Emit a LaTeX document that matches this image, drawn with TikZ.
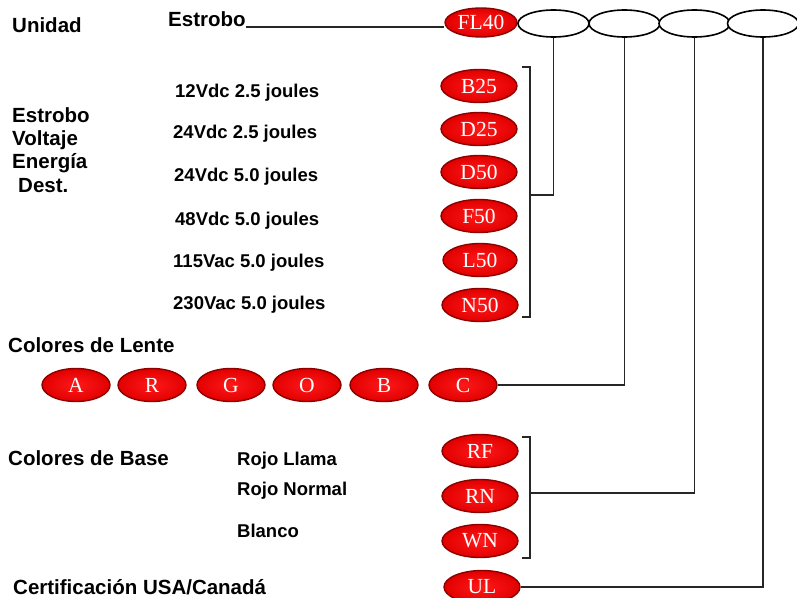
\documentclass[tikz,border=0pt]{standalone}
\usepackage{fontspec}
\setmainfont{Liberation Sans}
\newfontfamily\pillfont{Liberation Serif}
\usetikzlibrary{shapes.geometric}
\begin{document}
\begin{tikzpicture}[x=1pt,y=-1pt,
  head/.style={anchor=base west, inner sep=0, font=\bfseries\fontsize{20.5}{23}\selectfont},
  val/.style={anchor=base west, inner sep=0, font=\bfseries\fontsize{18.5}{21}\selectfont},
  pill/.style={ellipse, inner sep=0, minimum width=76, minimum height=33,
    draw={rgb,255:red,140;green,0;blue,0}, line width=1.4pt,
    inner color={rgb,255:red,255;green,25;blue,25}, outer color={rgb,255:red,225;green,0;blue,0},
    text=white, font=\pillfont\fontsize{21.5}{21.5}\selectfont},
  lens/.style={pill, minimum width=68},
  slot/.style={ellipse, inner sep=0, minimum width=71, minimum height=27, draw=black, line width=1.6pt, fill=white},
  conn/.style={draw=black!85, line width=1.3pt}
]
\useasboundingbox (0,0) rectangle (797,597);

% left headings
\node[head] (unidad) at (12,32) {Unidad};
\node[head] (estrobo) at (168,27) {Estrobo};
\node[head] (h1) at (12,122) {Estrobo};
\node[head] (h2) at (12,145) {Voltaje};
\node[head] (h3) at (12,168) {Energía};
\node[head] (h4) at (18,192) {Dest.};
\node[head] (lente) at (8,352) {Colores de Lente};
\node[head] (base) at (8,465) {Colores de Base};
\node[head] (cert) at (13,594) {Certificación USA/Canadá};

% voltage values
\node[val] (v1) at (175,97) {12Vdc 2.5 joules};
\node[val] (v2) at (173,138) {24Vdc 2.5 joules};
\node[val] (v3) at (174,181) {24Vdc 5.0 joules};
\node[val] (v4) at (175,225) {48Vdc 5.0 joules};
\node[val] (v5) at (173,267) {115Vac 5.0 joules};
\node[val] (v6) at (173,309) {230Vac 5.0 joules};

% base colour names
\node[val] (rl) at (237,465) {Rojo Llama};
\node[val] (rn) at (237,495) {Rojo Normal};
\node[val] (bl) at (237,537) {Blanco};

% top row
\node[pill, minimum width=72, minimum height=29] (FL40) at (481,22.5) {FL40};
\node[slot] (e1) at (553.5,23.5) {};
\node[slot] (e2) at (624.5,23.5) {};
\node[slot] (e3) at (694.5,23.5) {};
\node[slot] (e4) at (763,23.5) {};

% strobe codes
\node[pill] (B25) at (479,86) {B25};
\node[pill] (D25) at (479,129) {D25};
\node[pill] (D50) at (479,172) {D50};
\node[pill] (F50) at (479,216) {F50};
\node[pill, minimum width=74] (L50) at (480,260) {L50};
\node[pill] (N50) at (480,305) {N50};

% lens colours
\node[lens] (A) at (76,385) {A};
\node[lens] (R) at (152,385) {R};
\node[lens] (G) at (231,385) {G};
\node[lens] (O) at (307,385) {O};
\node[lens] (B) at (384,385) {B};
\node[lens] (C) at (463,385) {C};

% base colours
\node[pill] (RF) at (480,451) {RF};
\node[pill] (RN) at (480,496) {RN};
\node[pill] (WN) at (480,541) {WN};
\node[pill] (UL) at (482,587) {UL};

% brackets
\coordinate (b1t) at (522,67);
\coordinate (b1b) at (522,317);
\coordinate (b1m) at (530,195);
\coordinate (b2t) at (522,437);
\coordinate (b2b) at (522,558);
\coordinate (b2m) at (530,493);
\draw[conn] (b1t) -- ++(8,0) |- (b1b);
\draw[conn] (b2t) -- ++(8,0) |- (b2b);

% connectors
\draw[conn] (estrobo.base east) -- (estrobo.base east -| FL40.west);
\draw[conn] (e1.south) |- (b1m);
\draw[conn] (e2.south) |- (C.east);
\draw[conn] (e3.south) |- (b2m);
\draw[conn] (e4.south) |- (UL.east);
\end{tikzpicture}
\end{document}
